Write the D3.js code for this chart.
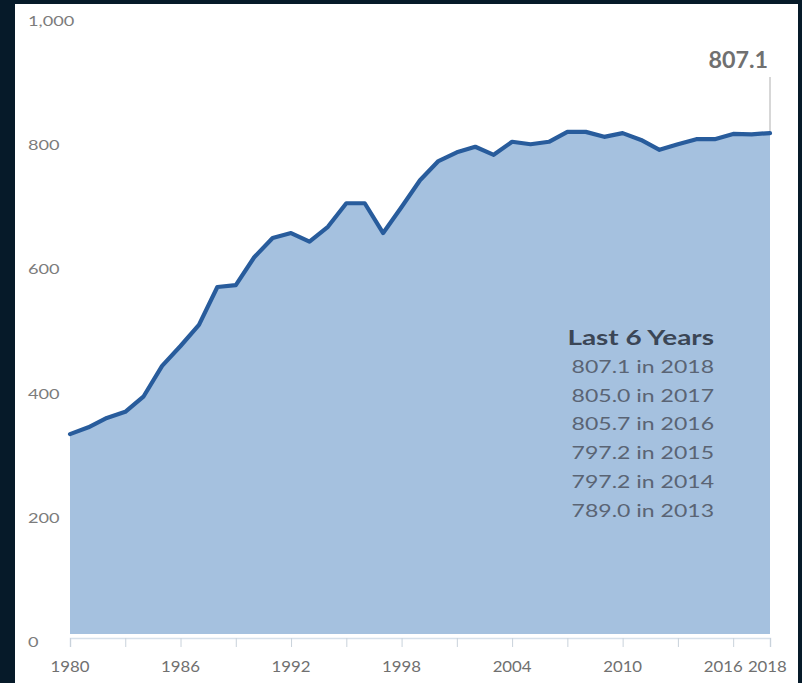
<!DOCTYPE html>
<html>
<head>
<meta charset="utf-8">
<script src="https://cdn.jsdelivr.net/npm/d3@7"></script>
<style>
  html, body { margin: 0; padding: 0; background: #061a29; }
  svg { display: block; }
</style>
</head>
<body>
<script>
// Annual totals, 1980–2018
const years = d3.range(1980, 2019);
const values = [
  322, 333, 348, 358, 383, 432, 464, 498, 559, 562,
  607, 638, 646, 632, 656, 694, 694, 646, 688, 731,
  762, 776, 785, 772, 793, 789, 793, 809, 809, 801,
  807, 796, 780, 789.0, 797.2, 797.2, 805.7, 805.0, 807.1
];
const yTicks = [0, 200, 400, 600, 800, 1000];
const xTicks = d3.range(1980, 2017, 3).concat([2018]);
const xLabels = [1980, 1986, 1992, 1998, 2004, 2010, 2016, 2018];
const recentTitle = "Last 6 Years";
const recentYears = [2018, 2017, 2016, 2015, 2014, 2013];

const W = 802, H = 683;
const data = years.map((y, i) => ({ year: y, value: values[i] }));
const FONT = "Lato, sans-serif";

// wide-set lettering: draw text at (px, py) stretched horizontally by sx
const place = (px, py, sx) => `translate(${px},${py}) scale(${sx},1)`;

const svg = d3.select("body").append("svg").attr("width", W).attr("height", H);

// white card inside the dark frame
svg.append("rect").attr("x", 15).attr("y", 4).attr("width", 783).attr("height", H - 4).attr("fill", "#ffffff");

const x = d3.scaleLinear().domain([1980, 2018]).range([70, 770]);
const y = d3.scaleLinear().domain([0, 1000]).range([634, 13.3]);

// filled area under the series
svg.append("path")
  .datum(data)
  .attr("fill", "#a5c1df")
  .attr("d", d3.area().x(d => x(d.year)).y0(y(0)).y1(d => y(d.value)));

// x axis baseline and ticks
const xAxis = svg.append("g").attr("transform", "translate(0,638)")
  .call(d3.axisBottom(x).tickValues(xTicks).tickSize(9).tickFormat(""));
xAxis.select(".domain").attr("stroke", "#d6e0ea").attr("stroke-width", 1.5);
xAxis.selectAll(".tick line").attr("stroke", "#c9d2db").attr("stroke-width", 1);

// year labels (the last two are nudged apart so they do not collide)
const xNudge = { 2016: -10, 2018: 0 };
svg.append("g").selectAll("text")
  .data(xLabels).join("text")
  .attr("transform", d => place(x(d) + (xNudge[d] || 0), 672, 1.12))
  .attr("text-anchor", d => d === 2018 ? "end" : "middle")
  .attr("dx", d => d === 2018 ? 15 : 0)
  .attr("font-family", FONT)
  .attr("font-size", 15)
  .attr("fill", "#707070")
  .text(d => d);

// y axis labels, left aligned
svg.append("g").selectAll("text")
  .data(yTicks).join("text")
  .attr("transform", d => place(28, y(d) + 8, 1.3))
  .attr("dy", "0.35em")
  .attr("font-family", FONT)
  .attr("font-size", 14)
  .attr("fill", "#7c7c7c")
  .text(d => d3.format(",")(d));

// series line
svg.append("path")
  .datum(data)
  .attr("fill", "none")
  .attr("stroke", "#285c9c")
  .attr("stroke-width", 4.2)
  .attr("stroke-linejoin", "round")
  .attr("stroke-linecap", "round")
  .attr("d", d3.line().x(d => x(d.year)).y(d => y(d.value)));

// latest value callout
const last = data[data.length - 1];
svg.append("line")
  .attr("x1", x(last.year)).attr("x2", x(last.year))
  .attr("y1", 77).attr("y2", y(last.value) - 2)
  .attr("stroke", "#bdbdbd").attr("stroke-width", 1.2);
svg.append("text")
  .attr("transform", place(x(last.year) - 2, 68, 1.06))
  .attr("text-anchor", "end")
  .attr("font-family", FONT)
  .attr("font-weight", 700)
  .attr("font-size", 22)
  .attr("fill", "#707070")
  .text(last.value.toFixed(1));

// recent years summary
const summary = svg.append("g").attr("font-family", FONT).attr("text-anchor", "end");
summary.append("text")
  .attr("transform", place(714, 345, 1.33))
  .attr("font-weight", 700).attr("font-size", 21)
  .attr("fill", "#3b4656")
  .text(recentTitle);
summary.selectAll("text.row")
  .data(recentYears).join("text")
  .attr("class", "row")
  .attr("transform", (d, i) => place(714, 373 + i * 28.7, 1.28))
  .attr("font-size", 18)
  .attr("fill", "#5a6474")
  .text(d => data.find(p => p.year === d).value.toFixed(1) + " in " + d);
</script>
</body>
</html>
